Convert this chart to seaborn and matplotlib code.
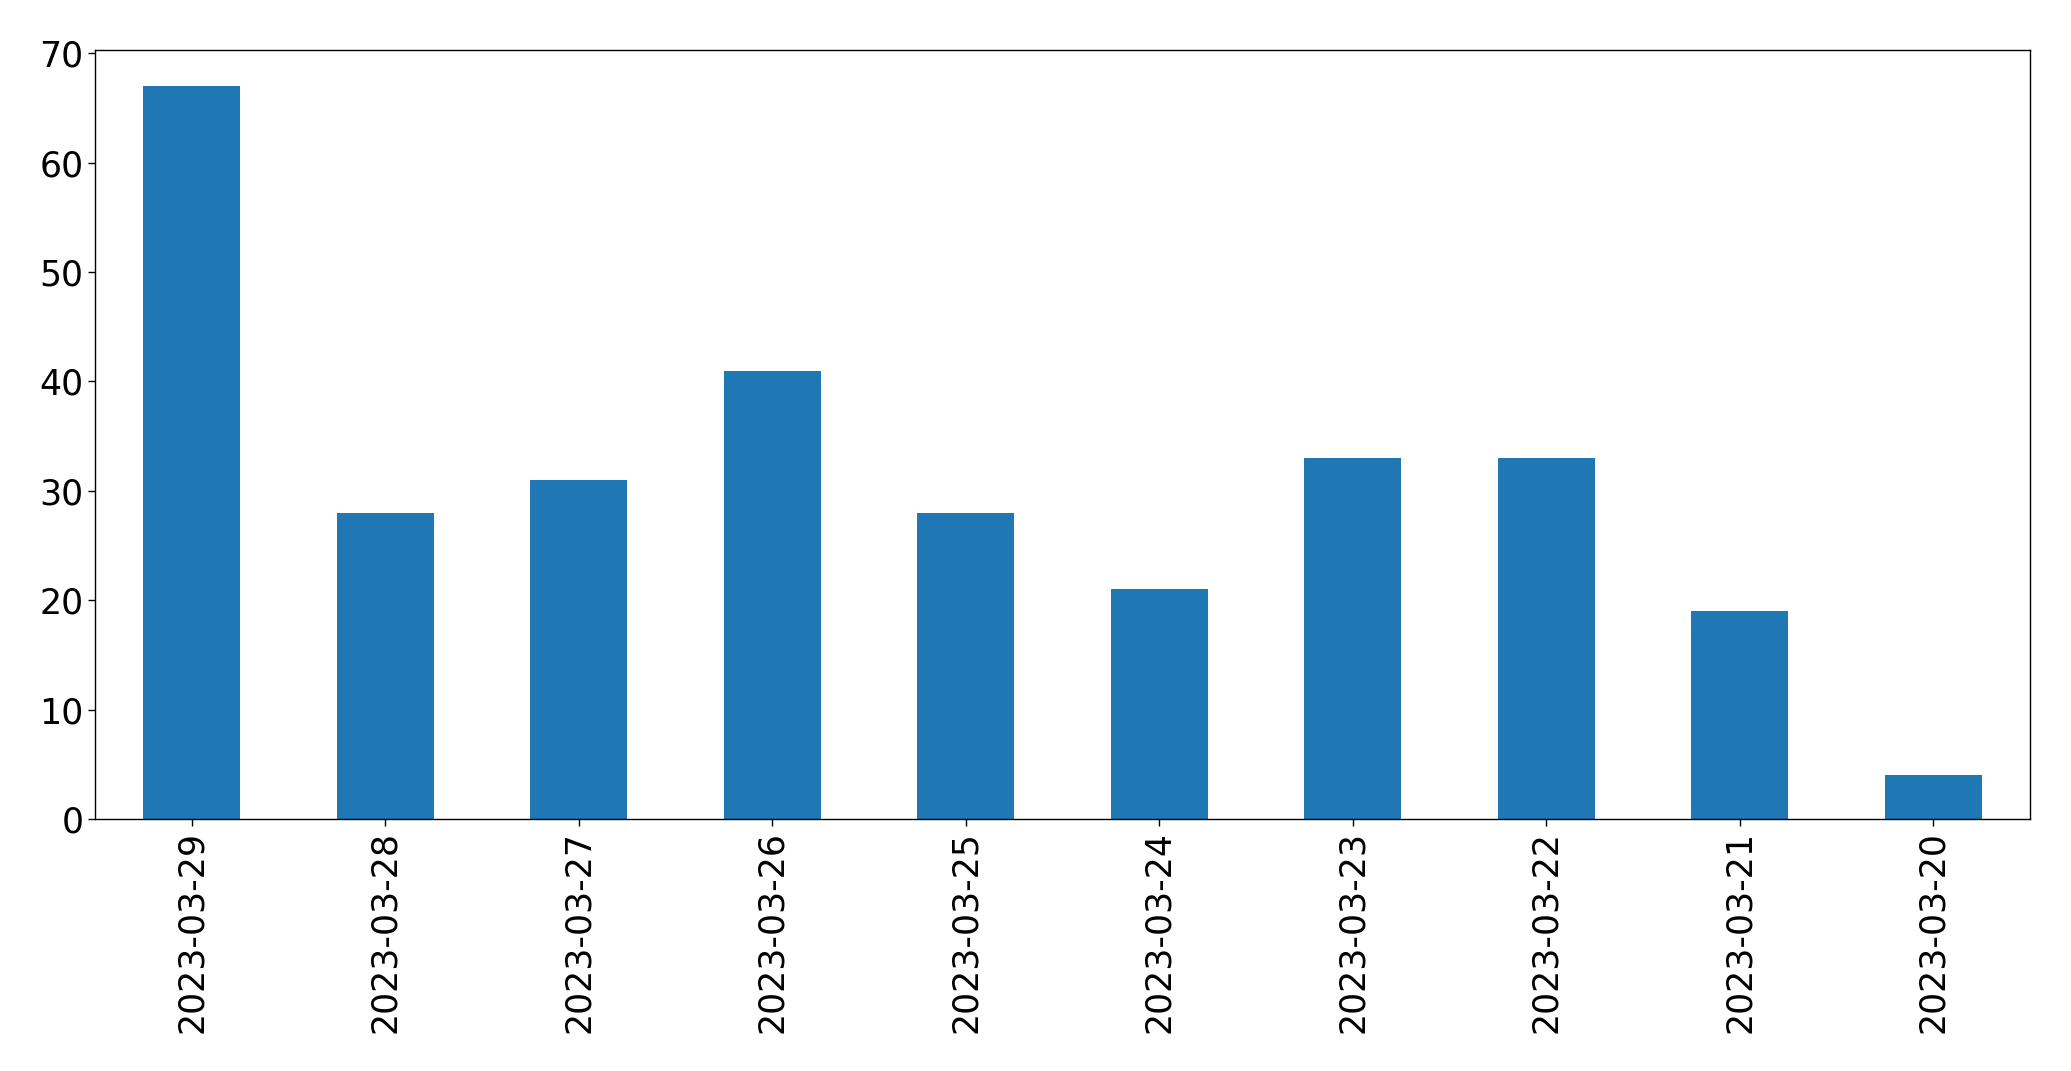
import matplotlib
matplotlib.use("Agg")
import matplotlib.pyplot as plt
import seaborn as sns
import pandas as pd

dates = ["2023-03-29", "2023-03-28", "2023-03-27", "2023-03-26", "2023-03-25",
         "2023-03-24", "2023-03-23", "2023-03-22", "2023-03-21", "2023-03-20"]
counts = [67, 28, 31, 41, 28, 21, 33, 33, 19, 4]

sns.set_theme(style="ticks")
plt.rcParams['font.family'] = ['DejaVu Sans']
plt.rcParams['text.color'] = 'black'
plt.rcParams['xtick.color'] = 'black'
plt.rcParams['ytick.color'] = 'black'
plt.rcParams['xtick.labelcolor'] = 'black'
plt.rcParams['ytick.labelcolor'] = 'black'

df = pd.DataFrame({"date": dates, "count": counts})

fig = plt.figure(figsize=(20.71, 10.71), dpi=100)
ax = fig.add_axes([95/2071, 1 - 819/1071, (2030 - 95)/2071, (819 - 49.5)/1071])
sns.barplot(data=df, x="date", y="count", order=dates, color="#1f77b4",
            saturation=1, width=0.5, linewidth=0, ax=ax)
ax.set_xlim(-0.5, 9.5)
ax.set_ylim(0, 70.35)
ax.set_xlabel("")
ax.set_ylabel("")
ax.tick_params(axis="both", labelsize=25, length=4.9, width=1,
               color="black", labelcolor="black")
plt.setp(ax.get_xticklabels(), rotation=90)
for s in ax.spines.values():
    s.set_visible(True)
    s.set_color("black")
    s.set_linewidth(1)
ax.set_yticks([0, 10, 20, 30, 40, 50, 60, 70])
fig.savefig("out.png", dpi=100)
